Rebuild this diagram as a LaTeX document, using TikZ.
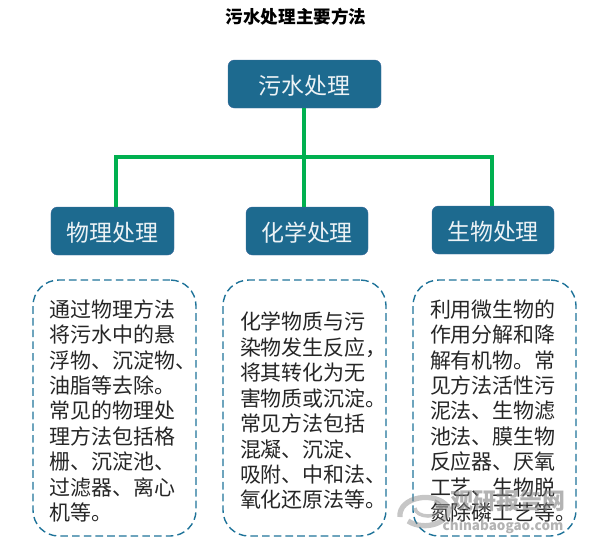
\documentclass[tikz,border=0pt]{standalone}
\usepackage{fontspec}
\setmainfont{Noto Sans CJK SC}
\usepackage{xcolor}
\usetikzlibrary{positioning,calc}
\definecolor{headblue}{HTML}{1D6A8F}
\definecolor{edgeblue}{HTML}{3F6C9E}
\definecolor{dashblue}{HTML}{1F7399}
\definecolor{linkgreen}{HTML}{00B050}
\tikzset{
  head/.style={draw=edgeblue,fill=headblue,rounded corners=5.5pt,text=white!92!headblue,text height=20pt,text depth=1.8pt,font=\fontsize{19.6pt}{23pt}\selectfont},
  panel/.style={draw=dashblue,dashed,dash pattern=on 6.5pt off 3.5pt,line width=1.2pt,rounded corners=22pt,minimum width=4.89cm,minimum height=7.68cm,text width=3.87cm,align=left,inner sep=0pt,execute at end node={\par\vspace{-5pt}},text=black!85,font=\fontsize{17.9pt}{21.7pt}\selectfont},
  link/.style={draw=linkgreen,line width=3pt},
  wmark/.style={text=gray,opacity=0.6,inner sep=0pt}
}
\begin{document}
\begin{tikzpicture}[x=0.03cm,y=-0.03cm]
\useasboundingbox (0,0) rectangle (599,556);
\node[font=\fontsize{15pt}{18pt}\selectfont\bfseries] (title) at (296,17) {污水处理主要方法};
\node[head,minimum width=4.59cm,minimum height=1.44cm] (root) at (304.5,84) {污水处理};
\node[head,minimum width=3.69cm,minimum height=1.44cm] (phys) at (112.5,231) {物理处理};
\node[head,minimum width=3.66cm,minimum height=1.44cm] (chem) at (307,231) {化学处理};
\node[head,minimum width=3.66cm,minimum height=1.44cm] (bio) at (493,230) {生物处理};
\node[panel] (physbody) at (114.5,408) {通过物理方法\\将污水中的悬\\浮物、沉淀物、\\油脂等去除。\\常见的物理处\\理方法包括格\\栅、沉淀池、\\过滤器、离心\\机等。};
\node[panel] (chembody) at (304.5,408) {化学物质与污\\染物发生反应，\\将其转化为无\\害物质或沉淀。\\常见方法包括\\混凝、沉淀、\\吸附、中和法、\\氧化还原法等。};
\node[panel] (biobody) at (494.5,408) {利用微生物的\\作用分解和降\\解有机物。常\\见方法活性污\\泥法、生物滤\\池法、膜生物\\反应器、厌氧\\工艺、生物脱\\氮除磷工艺等。};
\coordinate (bus) at (304,157);
\draw[link] (root.south -| bus) -- (bus);
\draw[link] (bus) -- (bus |- chem.north);
\draw[link] (bus) -| ([xshift=0.1cm]phys.north);
\draw[link] (bus) -| ([xshift=-0.03cm]bio.north);
% watermark
\draw[gray,opacity=0.45,line width=4.5pt] (400,517) .. controls (398,497) and (435,490) .. (448,507) .. controls (452,522) and (425,532) .. (408,521);
\draw[gray,opacity=0.45,line width=3pt] (415,508) arc (180:-60:13 and 8);
\node[wmark,font=\fontsize{19.6pt}{23pt}\selectfont\bfseries] (wmcn) at (508,501) {观研报告网};
\node[wmark,font=\fontsize{11.5pt}{14pt}\selectfont\bfseries] (wmen) at (503,527) {chinabaogao.com};
\end{tikzpicture}
\end{document}
